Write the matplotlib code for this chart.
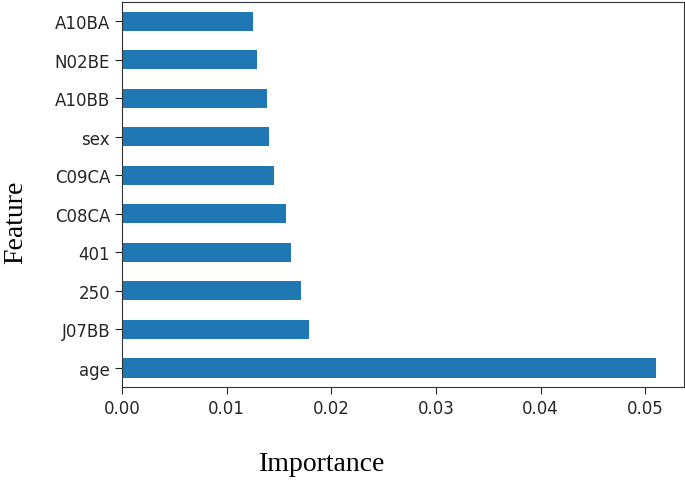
import matplotlib
matplotlib.use("Agg")
from matplotlib import pyplot as plt
import numpy as np

features = ['age', 'J07BB', '250', '401', 'C08CA', 'C09CA', 'sex', 'A10BB', 'N02BE', 'A10BA']
importance = [0.0510, 0.0179, 0.0171, 0.0162, 0.0157, 0.0145, 0.0141, 0.0139, 0.0129, 0.0125]
xticks = [0.00, 0.01, 0.02, 0.03, 0.04, 0.05]

fig = plt.figure(figsize=(6.85, 4.81), dpi=100)
ax = fig.add_axes([0.178, 0.193, 0.8205, 0.801])

ypos = np.arange(len(features))
ax.barh(ypos, importance, height=0.5, color='#1f77b4')
ax.set_yticks(ypos)
ax.set_yticklabels(features)
ax.set_ylim(-0.5, len(features) - 0.5)
ax.set_xlim(0, max(importance) * 1.053)
ax.set_xticks(xticks)
ax.set_xticklabels(['%.2f' % t for t in xticks])
ax.tick_params(labelsize=12, colors='#262626', length=5)
for s in ax.spines.values():
    s.set_color('#333333')

# axis titles were set in a serif face in the original
fig.text(322 / 685, 1 - 465 / 481, 'Importance', fontsize=20, family='Liberation Serif',
         ha='center', va='center')
fig.text(16 / 685, 1 - 222 / 481, 'Feature', fontsize=20, family='Liberation Serif',
         ha='center', va='center', rotation=90)

fig.savefig('out.png', dpi=100)
